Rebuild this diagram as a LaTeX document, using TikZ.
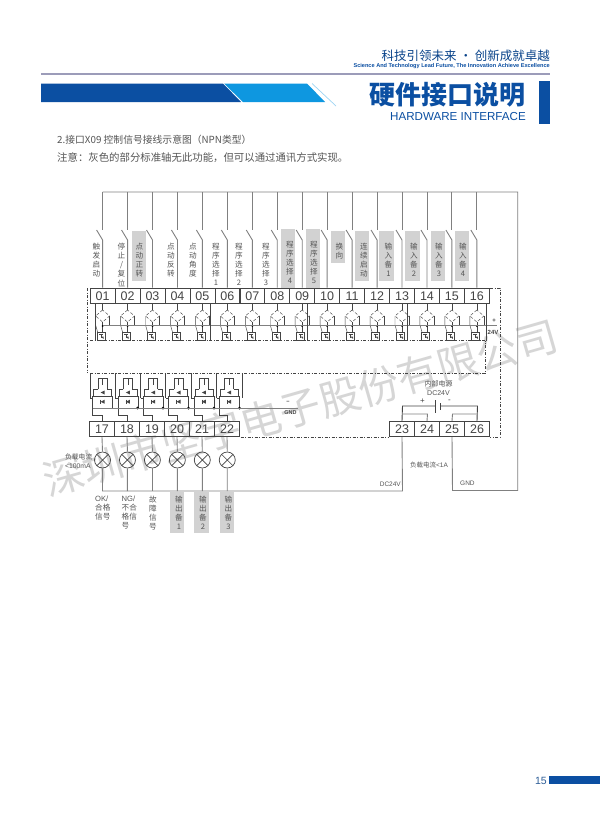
\documentclass[tikz,border=0pt]{standalone}
\usepackage{fontspec}
\setmainfont{Noto Sans CJK SC}
\newfontfamily\latinf{Liberation Sans}
\lineskiplimit=-20pt
\lineskip=0pt
\definecolor{navy}{HTML}{0B4FA2}
\definecolor{sky}{HTML}{0E97E0}
\definecolor{wline}{HTML}{808080}
\definecolor{dk}{HTML}{444444}
\definecolor{lab}{HTML}{555555}
\definecolor{gbox}{HTML}{D2D2D2}
\newcommand\tightlines{\lineskiplimit -20pt \lineskip 0pt }
\tikzset{
 wire/.style={draw=wline,line width=0.9pt},
 heavy/.style={draw=dk,line width=0.9pt},
 fine/.style={draw=dk,line width=0.45pt},
 dashbox/.style={draw=dk,line width=0.6pt,dash pattern=on 3pt off 1.5pt on 1pt off 1.5pt},
 term/.style={draw=dk,line width=0.7pt,minimum width=25pt,minimum height=15.5pt,inner sep=0pt,text height=9pt,text depth=0pt,font=\latinf\fontsize{12.5}{12.5}\selectfont,text=dk},
 vlab/.style={align=center,text=lab,font=\fontsize{7.6}{9.1}\selectfont\tightlines,inner sep=0pt,anchor=north},
 gb/.style={fill=gbox,draw=none},
 jdot/.style={circle,fill=black,inner sep=0pt,minimum size=2pt},
 lampc/.style={circle,draw=dk,line width=0.7pt,minimum size=16pt,inner sep=0pt,path picture={\draw[dk,line width=0.7pt] (path picture bounding box.north west)--(path picture bounding box.south east) (path picture bounding box.north east)--(path picture bounding box.south west);}}
}
\begin{document}
\begin{tikzpicture}[x=1pt,y=-1pt]
\useasboundingbox (0,0) rectangle (600,819);
\fill[white] (0,0) rectangle (600,819);
% watermark
\node[rotate=16,text=black!16,font=\fontsize{41}{41}\selectfont,inner sep=0pt] (wm) at (300,408) {深圳市坚宇电子股份有限公司};
% header
\node[anchor=east,text=navy!85!black,font=\fontsize{12.5}{12.5}\selectfont,inner sep=0pt] (h1) at (550,56) {科技引领未来 · 创新成就卓越};
\node[anchor=east,text=navy,font=\latinf\bfseries\fontsize{5.6}{6}\selectfont,inner sep=0pt] (h2) at (550,66.5) {Science And Technology Lead Future, The Innovation Achieve Excellence};
\fill[black!35!blue!30!gray!60] (41,73) rectangle (550,74.5);
\fill[navy] (41,83.5) -- (223,83.5) -- (241,102) -- (41,102) -- cycle;
\fill[sky] (224,83.5) -- (307,83.5) -- (325,102) -- (243,102) -- cycle;
\draw[sky!40,line width=0.7pt] (312,83.5) -- (336,106);
\node[anchor=east,text=navy,font=\bfseries\fontsize{26}{26}\selectfont,inner sep=0pt] (h3) at (526,95) {硬件接口说明};
\node[anchor=east,text=navy,font=\latinf\fontsize{11.6}{11.6}\selectfont,inner sep=0pt] (h4) at (526,117) {HARDWARE INTERFACE};
\fill[navy] (539,81) rectangle (550,124);
\node[anchor=west,text=lab,font=\fontsize{9.8}{9.8}\selectfont,inner sep=0pt] (t1) at (57,140) {2.接口X09 控制信号接线示意图（NPN类型）};
\node[anchor=west,text=lab,font=\fontsize{10.4}{10.4}\selectfont,inner sep=0pt] (t2) at (57,158) {注意：灰色的部分标准轴无此功能，但可以通过通讯方式实现。};
% footer
\node[anchor=east,text=navy!70!gray,font=\latinf\fontsize{10.5}{10.5}\selectfont,inner sep=0pt] (pg) at (547,781) {15};
\fill[navy] (549,776) rectangle (600,784);
% grey label backgrounds
\fill[gb] (132,231) rectangle (146,281);
\fill[gb] (281,229) rectangle (295,288);
\fill[gb] (306,229) rectangle (320,288);
\fill[gb] (331,231) rectangle (345,263);
\fill[gb] (355,231) rectangle (369,281);
\fill[gb] (379,231) rectangle (394,281);
\fill[gb] (405,231) rectangle (420,281);
\fill[gb] (431,231) rectangle (445,281);
\fill[gb] (455,231) rectangle (469,281);
\fill[gb] (170,492) rectangle (184,533);
\fill[gb] (194,492) rectangle (209,533);
\fill[gb] (220,492) rectangle (234,533);
% top terminals and inputs
\foreach \n [count=\i from 0] in {01,02,03,04,05,06,07,08,09,10,11,12,13,14,15,16}{
  \node[term] (T\n) at ({102.6+\i*24.95},295.7) {\n};
  \coordinate (B\n) at ({102.6+\i*24.95},192);
  \coordinate (S\n) at ({102.6+\i*24.95},230);
  \coordinate (E\n) at ({102.6+\i*24.95},240);
  \coordinate (L\n) at ({96.6+\i*24.95},230);
  \draw[wire] (B\n) -- (S\n);
  \draw[wire] (L\n) -- (E\n) -- (T\n.north);
  % bridge
  \begin{scope}[shift={({102.6+\i*24.95},0)}]
   \draw[fine] (T\n.south) -- (0,310);
   \draw[fine,densely dashed] (0,310) -- (-7,316) -- (0,322) -- (7,316) -- cycle;
   \draw[fine] (0,322) -- (0,332);
   \draw[fine] (-7,316) -- (-7,325) -- (-5,332);
   \draw[fine] (7,316) -- (7,325.7);
   \node[jdot] at (0,326) {};
   \draw[fine] (-5.5,332) rectangle (2.5,340);
   \draw[fine] (-3.5,334.5) -- (0.5,334.5) (-1.5,334.5) -- (-1.5,338);
   \fill[dk] (-1.8,336.5) -- (1,336.5) -- (1,339) -- cycle;
  \end{scope}
}
% common rail and partitions
\coordinate (cl) at (103,325.7);
\coordinate (cr) at (497,325.7);
\draw[wire] (cl) -- (cr);
\draw[heavy] (95,303.5) -- (95,340.5);
\draw[heavy] (210,303.5) -- (210,340.5);
\draw[heavy] (307.7,303.5) -- (307.7,340.5);
\draw[heavy] (407.7,303.5) -- (407.7,340.5);
\draw[heavy] (486.7,303.5) -- (486.7,340.5);
% dashed frames
\draw[dashbox] (490,288) -- (500,288) -- (500,437) -- (490,437);
\draw[dashbox] (240.5,437) -- (389,437);
\draw[dashbox] (87.5,288) -- (87.5,373);
\draw[dashbox] (90,340.7) -- (486,340.7);
\draw[dashbox] (90,373) -- (485,373) -- (485,340.7);
% bottom terminals
\foreach \n [count=\i from 0] in {17,18,19,20,21,22}{
  \node[term] (T\n) at ({102+\i*25},429) {\n};
}
\foreach \n [count=\i from 0] in {23,24,25,26}{
  \node[term] (T\n) at ({402+\i*25},429) {\n};
}
% output stages
\foreach \n [count=\i from 0] in {17,18,19,20,21,22}{
 \begin{scope}[shift={({102.6+\i*25.3},0)}]
  \draw[fine] (-10,396) rectangle (10,408);
  \draw[fine] (-4.5,389) -- (-4.5,378) -- (4.5,378) -- (4.5,389);
  \draw[fine] (0,378) -- (0,385);
  \draw[fine] (-4.5,389) -- (-9,389) -- (-9,396);
  \draw[fine] (4.5,389) -- (9,389) -- (9,396);
  \fill[dk] (-2,392.5) -- (2,390.5) -- (2,394.5) -- cycle;
  \fill[dk] (-2,401.7) -- (2,399.7) -- (2,403.7) -- cycle;
  \draw[fine] (-2,399.7) -- (-2,403.7);
  \draw[fine] (-10,408) -- (-10,415) -- (T\n.north |- 0,415) -- (T\n.north);
  \draw[heavy] (-12.6,373) -- (-12.6,398);
  \draw[fine] (-12.6,398) -- (-10,398);
 \end{scope}
}
\draw[heavy] (242.7,373) -- (242.7,398);
\foreach \x in {137.6,163,188.5,214,239.5}{\node[jdot,minimum size=3pt] at (\x,408) {};}
\coordinate (gndend) at (298,408);
\draw[wire] (92.7,408) -- (gndend);
\node[text=dk,font=\latinf\bfseries\fontsize{5.5}{5.5}\selectfont,inner sep=0pt] (g1) at (288,402.5) {−};
\node[text=dk,font=\latinf\bfseries\fontsize{5.5}{5.5}\selectfont,inner sep=0pt] (g2) at (290.5,413) {GND};
% lamps
\foreach \n/\m [count=\i from 0] in {17/a,18/b,19/c,20/d,21/e,22/f}{
  \node[lampc] (\m) at ({102.5+\i*24.95},460) {};
  \draw[wire] (T\n.south) -- (\m.north);
}
\coordinate (rb1) at (102.5,491);
\coordinate (rb2) at (402.5,491);
\coordinate (rb3) at (452.5,490.5);
\coordinate (rb4) at (517.7,490.5);
\coordinate (rb5) at (517.7,192);
\draw[wire] (a.south) -- (rb1) -- (rb2) -- (T23.south);
\draw[wire] (T25.south) -- (rb3) -- (rb4) -- (rb5) -- (B01);
\draw[wire] (b.south) -- (127.4,491);
\draw[wire] (c.south) -- (152.4,491);
\draw[wire] (d.south) -- (177.4,491);
\draw[wire] (e.south) -- (202.3,491);
\draw[wire] (f.south) -- (227.2,491);
% supply
\coordinate (p1) at (402.5,406);
\coordinate (p2) at (477.5,406);
\draw[heavy] (T23.north) -- (p1) -- (435.5,406);
\draw[heavy] (440.5,406) -- (p2) -- (T26.north);
\draw[dk,line width=1.2pt] (435.5,400) -- (435.5,413);
\draw[dk,line width=1.2pt] (440.5,403) -- (440.5,410);
\draw[wire] (402.5,414) -- (427.5,414) -- (T24.north);
\draw[wire] (T25.north) -- (452.5,414) -- (477.5,414);
\node[text=dk,font=\latinf\fontsize{8}{8}\selectfont,inner sep=0pt] (pl) at (422.5,401) {+};
\node[text=dk,font=\latinf\fontsize{8}{8}\selectfont,inner sep=0pt] (mi) at (449.5,401) {-};
\node[align=center,text=lab,font=\fontsize{7}{9.2}\selectfont\tightlines,inner sep=0pt] (ps) at (438.5,388) {内部电源\\{\latinf DC24V}};
\node[text=lab,font=\fontsize{6.5}{6.5}\selectfont,inner sep=0pt] (il) at (429,465) {负载电流{\latinf <1A}};
\node[anchor=east,text=lab,font=\latinf\fontsize{6.5}{6.5}\selectfont,inner sep=0pt] (dc) at (401,484) {DC24V};
\node[anchor=west,text=lab,font=\latinf\fontsize{6.5}{6.5}\selectfont,inner sep=0pt] (gn) at (460,483) {GND};
\node[text=dk,font=\latinf\bfseries\fontsize{6}{6}\selectfont,inner sep=0pt] (v1) at (493,332) {24V};
\node[text=dk,font=\latinf\bfseries\fontsize{6}{6}\selectfont,inner sep=0pt] (v2) at (494,320.5) {+};
% left note
\node[align=left,text=lab,font=\fontsize{6.8}{9.3}\selectfont\tightlines,inner sep=0pt,anchor=east] (nl) at (92.5,461.5) {负载电流\\{\latinf <100mA}};
% vertical input labels
\node[vlab] (l01) at (96.5,243) {触\\发\\启\\动};
\node[vlab] (l02) at (121.5,243) {停\\止\\/\\复\\位};
\node[vlab] (l03) at (139.5,243) {点\\动\\正\\转};
\node[vlab] (l04) at (171,243) {点\\动\\反\\转};
\node[vlab] (l05) at (193,243) {点\\动\\角\\度};
\node[vlab] (l06) at (216,243) {程\\序\\选\\择\\1};
\node[vlab] (l07) at (239,243) {程\\序\\选\\择\\2};
\node[vlab] (l08) at (266,243) {程\\序\\选\\择\\3};
\node[vlab] (l09) at (290,241) {程\\序\\选\\择\\4};
\node[vlab] (l10) at (314,241) {程\\序\\选\\择\\5};
\node[vlab] (l11) at (339.5,243) {换\\向};
\node[vlab] (l12) at (364,243) {连\\续\\启\\动};
\node[vlab] (l13) at (388.5,243) {输\\入\\备\\1};
\node[vlab] (l14) at (414,243) {输\\入\\备\\2};
\node[vlab] (l15) at (439,243) {输\\入\\备\\3};
\node[vlab] (l16) at (463,243) {输\\入\\备\\4};
% output labels
\node[vlab,align=left,anchor=north west] (o1) at (95,495.5) {{\latinf OK/}\\合格\\信号};
\node[vlab,align=left,anchor=north west] (o2) at (121.5,495.5) {{\latinf NG/}\\不合\\格信\\号};
\node[vlab] (o3) at (153,495.5) {故\\障\\信\\号};
\node[vlab] (o4) at (179,495.5) {输\\出\\备\\1};
\node[vlab] (o5) at (203,495.5) {输\\出\\备\\2};
\node[vlab] (o6) at (228.5,495.5) {输\\出\\备\\3};
\end{tikzpicture}
\end{document}
